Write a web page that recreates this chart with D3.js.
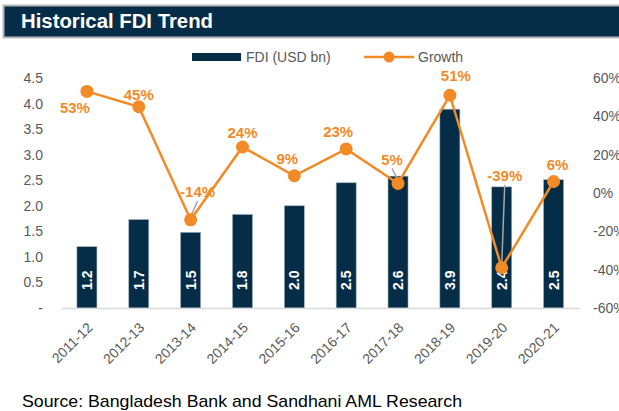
<!DOCTYPE html>
<html>
<head>
<meta charset="utf-8">
<script src="https://cdn.jsdelivr.net/npm/d3@7"></script>
<style>
  body { margin: 0; background: #fff; }
  svg { display: block; font-family: "Liberation Sans", Arial, sans-serif; }
</style>
</head>
<body>
<svg id="chart" width="619" height="411"></svg>
<script>
// data
const years = ["2011-12", "2012-13", "2013-14", "2014-15", "2015-16", "2016-17", "2017-18", "2018-19", "2019-20", "2020-21"];
const fdi = [1.20, 1.73, 1.48, 1.83, 2.00, 2.45, 2.58, 3.89, 2.37, 2.51];
const growth = [53, 45, -14, 24, 9, 23, 5, 51, -39, 6];
const leftTicks = [0, 0.5, 1, 1.5, 2, 2.5, 3, 3.5, 4, 4.5];
const rightTicks = [-60, -40, -20, 0, 20, 40, 60];

// where each growth label sits relative to its dot (layout only)
const labelShift = [[-12, 16], [0, -12], [7, -28], [0, -14], [-7, -17], [-8, -17], [-6, -24], [6, -20], [3, -92], [4, -17]];
const leader = [false, false, true, false, false, false, true, false, true, false];

const navy = "#062d47";
const orange = "#f28a26";
const grey = "#595959";

const svg = d3.select("#chart");

// title bar
svg.append("rect").attr("x", 3.5).attr("y", 5.5).attr("width", 620).attr("height", 32)
    .attr("fill", navy).attr("stroke", "#b8b8b8").attr("stroke-width", 2);
svg.append("text").attr("x", 21).attr("y", 28)
    .attr("fill", "#fff").attr("font-weight", "bold").attr("font-size", 20)
    .attr("textLength", 192).attr("lengthAdjust", "spacingAndGlyphs")
    .text("Historical FDI Trend");

// scales
const x = d3.scaleBand().domain(years).range([61, 579.5]).paddingInner(0.614).paddingOuter(0.307);
const yL = d3.scaleLinear().domain([0, 4.5]).range([308, 78]);
const yR = d3.scaleLinear().domain([-60, 60]).range([308, 78]);
const cx = d => x(d) + x.bandwidth() / 2;

// left axis
const gl = svg.append("g").attr("transform", "translate(43,0)")
    .call(d3.axisLeft(yL).tickValues(leftTicks).tickSize(0).tickPadding(0)
        .tickFormat(d => d === 0 ? "-" : d3.format(".1f")(d)));
gl.select(".domain").remove();
gl.selectAll("text").attr("font-size", 14).attr("fill", grey).attr("font-family", "Liberation Sans, Arial");

// right axis
const gr = svg.append("g").attr("transform", "translate(593,0)")
    .call(d3.axisRight(yR).tickValues(rightTicks).tickSize(0).tickPadding(0)
        .tickFormat(d => d + "%"));
gr.select(".domain").remove();
gr.selectAll("text").attr("font-size", 14).attr("fill", grey).attr("font-family", "Liberation Sans, Arial");

// bars
svg.append("g").selectAll("rect").data(years).join("rect")
    .attr("x", d => x(d))
    .attr("y", (d, i) => yL(fdi[i]))
    .attr("width", x.bandwidth())
    .attr("height", (d, i) => yL(0) - yL(fdi[i]))
    .attr("fill", navy)
    .attr("stroke", "#9fb0bf").attr("stroke-width", 0.6);

// bar value labels
svg.append("g").selectAll("text").data(years).join("text")
    .attr("transform", d => `translate(${cx(d) + 5},${290}) rotate(-90)`)
    .attr("fill", "#fff").attr("font-weight", "bold").attr("font-size", 14)
    .text((d, i) => d3.format(".1f")(fdi[i]));

// x axis
const gx = svg.append("g").attr("transform", "translate(0,308)")
    .call(d3.axisBottom(x).tickSize(0).tickPadding(0));
gx.select(".domain").attr("stroke", "#d9d9d9").attr("stroke-width", 1.5);
gx.selectAll("text")
    .attr("font-size", 14).attr("fill", grey).attr("font-family", "Liberation Sans, Arial")
    .attr("text-anchor", "end")
    .attr("transform", "translate(3,17) rotate(-45)")
    .attr("dy", "0.35em");

// leader lines for the labels that sit away from their dot
svg.append("g").selectAll("line").data(years.filter((d, i) => leader[i])).join("line")
    .attr("x1", d => cx(d) + labelShift[years.indexOf(d)][0])
    .attr("y1", d => yR(growth[years.indexOf(d)]) + labelShift[years.indexOf(d)][1] + 9)
    .attr("x2", d => cx(d))
    .attr("y2", d => yR(growth[years.indexOf(d)]) - 3)
    .attr("stroke", "#a6a6a6").attr("stroke-width", 1.5);

// growth line
const line = d3.line().x(d => cx(d)).y((d, i) => yR(growth[i]));
svg.append("path").datum(years).attr("d", line)
    .attr("fill", "none").attr("stroke", orange).attr("stroke-width", 2.5);

svg.append("g").selectAll("circle").data(years).join("circle")
    .attr("cx", d => cx(d)).attr("cy", (d, i) => yR(growth[i])).attr("r", 6.5)
    .attr("fill", orange);

// growth labels
svg.append("g").selectAll("text").data(years).join("text")
    .attr("x", (d, i) => cx(d) + labelShift[i][0])
    .attr("y", (d, i) => yR(growth[i]) + labelShift[i][1])
    .attr("dy", "0.35em")
    .attr("text-anchor", "middle")
    .attr("fill", orange).attr("font-weight", "bold").attr("font-size", 15)
    .text((d, i) => growth[i] + "%");

// legend
const lg = svg.append("g");
lg.append("rect").attr("x", 192).attr("y", 53).attr("width", 49).attr("height", 8).attr("fill", navy);
lg.append("text").attr("x", 246).attr("y", 57).attr("dy", "0.35em")
    .attr("font-size", 14).attr("fill", grey).text("FDI (USD bn)");
lg.append("line").attr("x1", 364).attr("x2", 414).attr("y1", 57).attr("y2", 57)
    .attr("stroke", orange).attr("stroke-width", 2.5);
lg.append("circle").attr("cx", 389).attr("cy", 57).attr("r", 5.5).attr("fill", orange);
lg.append("text").attr("x", 418).attr("y", 57).attr("dy", "0.35em")
    .attr("font-size", 14).attr("fill", grey).text("Growth");

// source note
svg.append("text").attr("x", 22).attr("y", 407)
    .attr("font-size", 17).attr("fill", "#000")
    .attr("textLength", 440).attr("lengthAdjust", "spacingAndGlyphs")
    .text("Source: Bangladesh Bank and Sandhani AML Research");
</script>
</body>
</html>
